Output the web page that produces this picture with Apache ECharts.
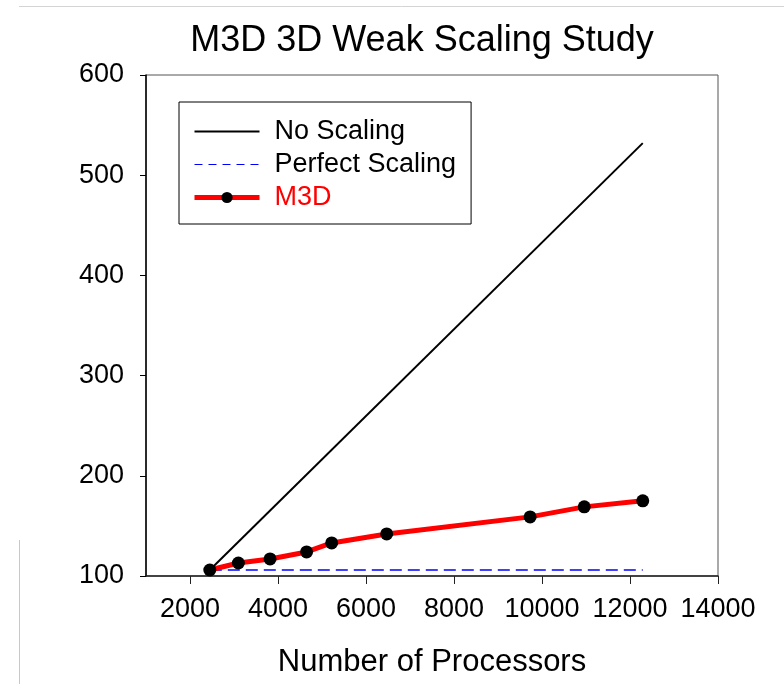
<!DOCTYPE html>
<html>
<head>
<meta charset="utf-8">
<script src="https://cdn.jsdelivr.net/npm/echarts@6/dist/echarts.min.js"></script>
<style>
html,body{margin:0;padding:0;background:#fff;}
#chart{width:784px;height:684px;}
</style>
</head>
<body>
<div id="chart"></div>
<script>
// ---- data ----
const processors = [2450, 3100, 3820, 4650, 5220, 6470, 9730, 10960, 12290];
const m3dTime = [106, 113, 117, 124, 133, 142, 159, 169, 175];
const noScalingX = [2450, 12290];
const noScalingY = [106, 532];
const perfectX = [2450, 12290];
const perfectY = [106, 106];
const xTicks = [2000, 4000, 6000, 8000, 10000, 12000, 14000];
const yTicks = [100, 200, 300, 400, 500, 600];
const seriesNames = ['No Scaling', 'Perfect Scaling', 'M3D'];

const zip = (xs, ys) => xs.map((x, i) => [x, ys[i]]);
const FONT = 'Liberation Sans, Arial, sans-serif';

const chart = echarts.init(document.getElementById('chart'), null, {renderer: 'canvas'});
chart.setOption({
  animation: false,
  backgroundColor: '#fff',
  title: {
    text: 'M3D 3D Weak Scaling Study',
    left: 417, top: 18, textAlign: 'center',
    textStyle: {fontFamily: FONT, fontSize: 36, fontWeight: 'normal', color: '#000'}
  },
  grid: {left: 146, right: 66, top: 75, bottom: 108, show: true, borderColor: '#555', borderWidth: 1},
  legend: {
    orient: 'vertical', left: 179, top: 102,
    padding: [16, 15, 13, 13],
    borderColor: '#000', borderWidth: 1,
    itemWidth: 65, itemHeight: 14, itemGap: 6,
    textStyle: {fontFamily: FONT, fontSize: 27, color: '#000', padding: [0, 0, 0, 10]},
    data: [
      {name: seriesNames[0], itemStyle: {opacity: 0}, lineStyle: {color: '#000', width: 2}},
      {name: seriesNames[1], itemStyle: {opacity: 0}, lineStyle: {color: '#0000ff', width: 1.2, type: [8, 6]}},
      {name: seriesNames[2], textStyle: {color: '#ff0000'}, itemStyle: {color: '#000'}, lineStyle: {color: '#ff0000', width: 5}}
    ]
  },
  xAxis: {
    type: 'value', min: 1000, max: 14000,
    name: 'Number of Processors', nameLocation: 'middle', nameGap: 71,
    nameTextStyle: {fontFamily: FONT, fontSize: 31, color: '#000'},
    axisLine: {show: true, onZero: false, lineStyle: {color: '#222', width: 1.5}},
    axisTick: {show: true, inside: false, length: 8, customValues: xTicks, lineStyle: {color: '#222', width: 1}},
    axisLabel: {customValues: xTicks, margin: 20, fontFamily: FONT, fontSize: 27, color: '#000',
      formatter: v => String(v)},
    splitLine: {show: false}
  },
  yAxis: {
    type: 'value', min: 100, max: 600, interval: 100,
    axisLine: {show: true, onZero: false, lineStyle: {color: '#000', width: 1.5}},
    axisTick: {show: true, inside: false, length: 6, lineStyle: {color: '#000', width: 1}},
    axisLabel: {margin: 22, fontFamily: FONT, fontSize: 27, color: '#000',
      formatter: v => yTicks.includes(v) ? String(v) : ''},
    splitLine: {show: false}
  },
  series: [
    {
      name: seriesNames[0], type: 'line', data: zip(noScalingX, noScalingY),
      symbol: 'none', lineStyle: {color: '#000', width: 2}, itemStyle: {color: '#000'}, z: 2
    },
    {
      name: seriesNames[1], type: 'line', data: zip(perfectX, perfectY),
      symbol: 'none', lineStyle: {color: '#0000ff', width: 1.5, type: [12, 6]}, itemStyle: {color: '#0000ff'}, z: 2
    },
    {
      name: seriesNames[2], type: 'line', data: zip(processors, m3dTime),
      symbol: 'circle', symbolSize: 13, showAllSymbol: true,
      lineStyle: {color: '#ff0000', width: 5}, itemStyle: {color: '#000'}, z: 3
    }
  ],
  graphic: [
    {type: 'line', shape: {x1: 19, y1: 6.5, x2: 784, y2: 6.5}, style: {stroke: '#d4d4d4', lineWidth: 1}, silent: true},
    {type: 'line', shape: {x1: 19.5, y1: 540, x2: 19.5, y2: 684}, style: {stroke: '#c8c8c8', lineWidth: 1}, silent: true}
  ]
});
</script>
</body>
</html>
